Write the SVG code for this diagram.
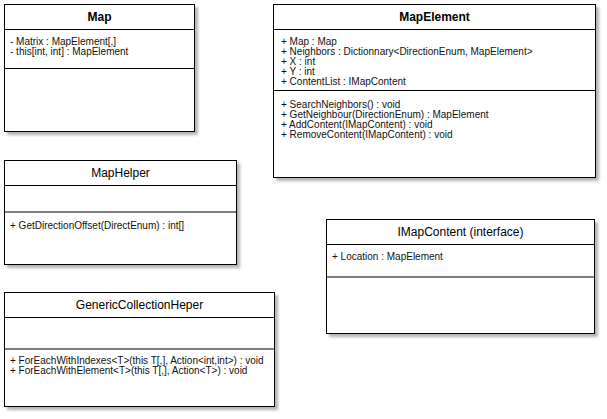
<svg xmlns="http://www.w3.org/2000/svg" width="607" height="419" viewBox="0 0 607 419">
<style>
.box{fill:#fff;stroke:#000;stroke-width:1;filter:url(#sh)}
.div1{stroke:#000;stroke-width:1}
.div2{stroke:#000;stroke-width:1}
.title{font-family:"Liberation Sans",Arial,sans-serif;font-size:12px;fill:#000;text-anchor:middle}
.bold{font-weight:bold}
.mem{font-family:"Liberation Sans",Arial,sans-serif;font-size:10px;fill:#111}
</style>
<defs>
<filter id="sh" x="-5%" y="-5%" width="115%" height="120%">
<feGaussianBlur in="SourceAlpha" stdDeviation="1.6"/>
<feOffset dx="3" dy="3" result="b"/>
<feComponentTransfer><feFuncA type="linear" slope="0.3"/></feComponentTransfer>
<feMerge><feMergeNode/><feMergeNode in="SourceGraphic"/></feMerge>
</filter>
</defs>
<rect width="607" height="419" fill="#fff"/>
<g id="connectors"></g>
<g id="Map">
<rect class="box" x="4.5" y="4.5" width="190" height="127"/>
<line class="div1" x1="4.5" y1="29.5" x2="194.5" y2="29.5"/>
<line class="div2" x1="4.5" y1="68.5" x2="194.5" y2="68.5"/>
<text class="title bold" x="99.5" y="21.3">Map</text>
<text class="mem" x="10" y="44.5">- Matrix : MapElement[,]</text>
<text class="mem" x="10" y="54.5">- this[int, int] : MapElement</text>
</g>
<g id="MapElement">
<rect class="box" x="273.5" y="4.5" width="322" height="173"/>
<line class="div1" x1="273.5" y1="29.5" x2="595.5" y2="29.5"/>
<line class="div2" x1="273.5" y1="90.5" x2="595.5" y2="90.5"/>
<text class="title bold" x="434.5" y="21.3">MapElement</text>
<text class="mem" x="281" y="44.5">+ Map : Map</text>
<text class="mem" x="281" y="54.5">+ Neighbors : Dictionnary&lt;DirectionEnum, MapElement&gt;</text>
<text class="mem" x="281" y="64.5">+ X : int</text>
<text class="mem" x="281" y="74.5">+ Y : int</text>
<text class="mem" x="281" y="84.5">+ ContentList : IMapContent</text>
<text class="mem" x="281" y="108">+ SearchNeighbors() : void</text>
<text class="mem" x="281" y="118">+ GetNeighbour(DirectionEnum) : MapElement</text>
<text class="mem" x="281" y="128">+ AddContent(IMapContent) : void</text>
<text class="mem" x="281" y="138">+ RemoveContent(IMapContent) : void</text>
</g>
<g id="MapHelper">
<rect class="box" x="4.5" y="160.5" width="232" height="104"/>
<line class="div1" x1="4.5" y1="185.5" x2="236.5" y2="185.5"/>
<line class="div2" x1="4.5" y1="212" x2="236.5" y2="212"/>
<text class="title" x="120.5" y="177.3">MapHelper</text>
<text class="mem" x="10" y="228.5">+ GetDirectionOffset(DirectEnum) : int[]</text>
</g>
<g id="GenericCollectionHeper">
<rect class="box" x="4.5" y="292.5" width="270" height="114"/>
<line class="div1" x1="4.5" y1="317.5" x2="274.5" y2="317.5"/>
<line class="div2" x1="4.5" y1="349" x2="274.5" y2="349"/>
<text class="title" x="139.5" y="309.3">GenericCollectionHeper</text>
<text class="mem" x="10" y="364">+ ForEachWithIndexes&lt;T&gt;(this T[,], Action&lt;int,int&gt;) : void</text>
<text class="mem" x="10" y="374">+ ForEachWithElement&lt;T&gt;(this T[,], Action&lt;T&gt;) : void</text>
</g>
<g id="IMapContent">
<rect class="box" x="326.5" y="219.5" width="268" height="114"/>
<line class="div1" x1="326.5" y1="244.5" x2="594.5" y2="244.5"/>
<line class="div2" x1="326.5" y1="277" x2="594.5" y2="277"/>
<text class="title" x="460.5" y="236.3">IMapContent (interface)</text>
<text class="mem" x="332" y="259.5">+ Location : MapElement</text>
</g>
</svg>
